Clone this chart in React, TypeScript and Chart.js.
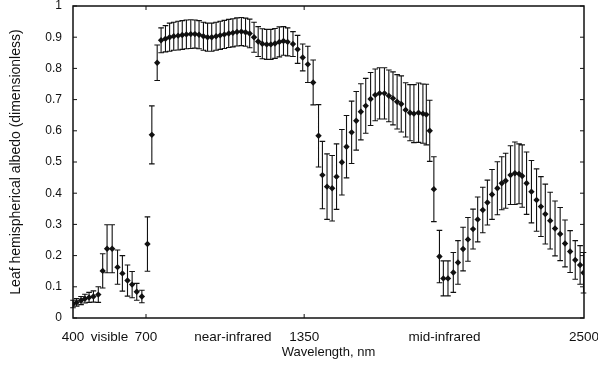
import React, { useEffect, useRef } from "react";
import { Chart, registerables } from "chart.js";

Chart.register(...registerables);

// ---- Data ----
// Visible / red-edge region
const visWavelength = [400, 415, 433, 449, 466, 484, 504, 522, 540, 561, 583, 603, 624, 643, 662, 683, 706, 724, 746];
const visAlbedo = [0.045, 0.05, 0.056, 0.062, 0.066, 0.069, 0.075, 0.151, 0.222, 0.222, 0.163, 0.143, 0.12, 0.107, 0.084, 0.069, 0.237, 0.587, 0.818];
const visError = [0.012, 0.012, 0.013, 0.014, 0.016, 0.018, 0.025, 0.055, 0.077, 0.077, 0.055, 0.057, 0.05, 0.042, 0.027, 0.02, 0.087, 0.093, 0.057];

// Near-infrared plateau
const nirWavelength = [762, 780, 797, 814, 832, 849, 866, 884, 901, 918, 936, 953, 970, 988, 1005, 1022, 1040, 1057, 1074, 1092, 1109, 1126, 1144, 1161, 1178, 1196, 1213, 1230, 1248, 1265, 1282];
const nirAlbedo = [0.89, 0.895, 0.9, 0.903, 0.905, 0.907, 0.909, 0.91, 0.91, 0.908, 0.903, 0.9, 0.9, 0.903, 0.906, 0.909, 0.912, 0.914, 0.917, 0.918, 0.916, 0.912, 0.9, 0.886, 0.879, 0.877, 0.877, 0.88, 0.885, 0.888, 0.885];
const nirError = [0.04, 0.042, 0.045, 0.045, 0.046, 0.046, 0.046, 0.046, 0.045, 0.045, 0.045, 0.045, 0.045, 0.045, 0.045, 0.045, 0.045, 0.045, 0.045, 0.045, 0.045, 0.046, 0.048, 0.048, 0.048, 0.048, 0.048, 0.048, 0.048, 0.046, 0.045];

// Water band at ~1400 nm and first mid-infrared hump
const midWavelength = [1304, 1323, 1344, 1365, 1387, 1409, 1425, 1444, 1465, 1483, 1505, 1524, 1545, 1564, 1583, 1603, 1623, 1642, 1660, 1680, 1698, 1715, 1732, 1749, 1767, 1785, 1801, 1820, 1838, 1852, 1866, 1883];
const midAlbedo = [0.878, 0.861, 0.835, 0.813, 0.755, 0.584, 0.458, 0.421, 0.416, 0.453, 0.499, 0.549, 0.595, 0.632, 0.661, 0.68, 0.702, 0.715, 0.72, 0.72, 0.712, 0.704, 0.693, 0.686, 0.667, 0.658, 0.655, 0.658, 0.655, 0.652, 0.6, 0.413];
const midError = [0.04, 0.045, 0.043, 0.058, 0.072, 0.1, 0.108, 0.105, 0.105, 0.105, 0.105, 0.1, 0.1, 0.094, 0.09, 0.088, 0.085, 0.083, 0.082, 0.082, 0.083, 0.085, 0.087, 0.09, 0.087, 0.09, 0.093, 0.095, 0.095, 0.097, 0.098, 0.104];

// Second mid-infrared hump
const swirWavelength = [1906, 1922, 1941, 1963, 1982, 2003, 2023, 2044, 2063, 2084, 2103, 2122, 2144, 2162, 2178, 2198, 2216, 2233, 2246, 2264, 2284, 2305, 2323, 2341, 2361, 2381, 2402, 2422, 2443, 2464, 2484, 2498];
const swirAlbedo = [0.197, 0.127, 0.127, 0.146, 0.178, 0.221, 0.252, 0.285, 0.316, 0.346, 0.37, 0.396, 0.416, 0.432, 0.44, 0.458, 0.464, 0.462, 0.455, 0.432, 0.405, 0.378, 0.357, 0.333, 0.312, 0.287, 0.269, 0.239, 0.213, 0.186, 0.17, 0.145];
const swirError = [0.084, 0.056, 0.056, 0.064, 0.07, 0.07, 0.07, 0.064, 0.072, 0.073, 0.072, 0.08, 0.085, 0.085, 0.088, 0.094, 0.1, 0.096, 0.1, 0.1, 0.1, 0.1, 0.096, 0.096, 0.091, 0.088, 0.085, 0.075, 0.067, 0.062, 0.062, 0.065];

// Axis ticks
const xTickValues = [400, 550, 700, 1057, 1350, 1927, 2500];
const xTickLabels = ["400", "visible", "700", "near-infrared", "1350", "mid-infrared", "2500"];
const xMarkedTicks = [700, 1350];
const yTickValues = [0, 0.1, 0.2, 0.3, 0.4, 0.5, 0.6, 0.7, 0.8, 0.9, 1];

const wavelength = [...visWavelength, ...nirWavelength, ...midWavelength, ...swirWavelength];
const albedo = [...visAlbedo, ...nirAlbedo, ...midAlbedo, ...swirAlbedo];
const errors = [...visError, ...nirError, ...midError, ...swirError];

const FONT = "'Liberation Sans', Arial, Helvetica, sans-serif";
const INK = "#111111";

const errorBarPlugin = {
  id: "errorBars",
  beforeDatasetsDraw(chart: any) {
    const { ctx } = chart;
    const x = chart.scales.x;
    const y = chart.scales.y;
    const cap = 2.8;
    ctx.save();
    ctx.strokeStyle = INK;
    ctx.lineWidth = 1.1;
    ctx.beginPath();
    wavelength.forEach((w, i) => {
      const px = x.getPixelForValue(w);
      const top = y.getPixelForValue(albedo[i] + errors[i]);
      const bot = y.getPixelForValue(albedo[i] - errors[i]);
      ctx.moveTo(px, top);
      ctx.lineTo(px, bot);
      ctx.moveTo(px - cap, top);
      ctx.lineTo(px + cap, top);
      ctx.moveTo(px - cap, bot);
      ctx.lineTo(px + cap, bot);
    });
    ctx.stroke();
    ctx.restore();
  },
};

const framePlugin = {
  id: "frame",
  afterDraw(chart: any) {
    const { ctx, chartArea } = chart;
    const { left, right, top, bottom } = chartArea;
    const x = chart.scales.x;
    const y = chart.scales.y;
    const len = 4;
    ctx.save();
    ctx.strokeStyle = INK;
    ctx.lineWidth = 1.5;
    ctx.strokeRect(left, top, right - left, bottom - top);
    ctx.lineWidth = 1;
    ctx.beginPath();
    yTickValues.forEach((v) => {
      const py = y.getPixelForValue(v);
      ctx.moveTo(left, py);
      ctx.lineTo(left + len, py);
      ctx.moveTo(right, py);
      ctx.lineTo(right - len, py);
    });
    xMarkedTicks.forEach((v) => {
      const px = x.getPixelForValue(v);
      ctx.moveTo(px, bottom);
      ctx.lineTo(px, bottom - len);
      ctx.moveTo(px, top);
      ctx.lineTo(px, top + len);
    });
    ctx.stroke();
    ctx.restore();
  },
};

const zeroPad = (s: any) => {
  s.paddingTop = 0;
  s.paddingBottom = 0;
  s.paddingLeft = 0;
  s.paddingRight = 0;
};

export default function App() {
  const canvasRef = useRef<HTMLCanvasElement | null>(null);

  useEffect(() => {
    if (!canvasRef.current) return;
    const points = wavelength.map((w, i) => ({ x: w, y: albedo[i] }));
    const chart = new Chart(canvasRef.current, {
      type: "scatter",
      data: {
        datasets: [
          {
            data: points,
            pointStyle: "rectRot",
            pointRadius: 3.2,
            pointBorderWidth: 0,
            backgroundColor: INK,
            borderColor: INK,
            showLine: false,
          },
        ],
      },
      options: {
        responsive: false,
        animation: false,
        devicePixelRatio: 1,
        layout: { autoPadding: false, padding: { left: 0, right: 14, top: 6, bottom: 0 } },
        plugins: {
          legend: { display: false },
          tooltip: { enabled: false },
        },
        scales: {
          x: {
            type: "linear",
            position: "bottom",
            min: 400,
            max: 2500,
            afterBuildTicks: (s: any) => {
              s.ticks = xTickValues.map((v) => ({ value: v }));
            },
            afterFit: (s: any) => {
              s.height = 49;
              zeroPad(s);
            },
            ticks: {
              autoSkip: false,
              maxRotation: 0,
              minRotation: 0,
              padding: 11,
              color: INK,
              font: { family: FONT, size: 13.5 },
              callback: (_v: any, i: number) => xTickLabels[i],
            },
            grid: { display: false, drawTicks: false },
            border: { display: false },
            title: {
              display: true,
              text: "Wavelength, nm",
              color: INK,
              font: { family: FONT, size: 13 },
              padding: { top: 0, bottom: 7 },
            },
          },
          y: {
            type: "linear",
            min: 0,
            max: 1,
            afterBuildTicks: (s: any) => {
              s.ticks = yTickValues.map((v) => ({ value: v }));
            },
            afterFit: (s: any) => {
              s.width = 73;
              zeroPad(s);
            },
            ticks: {
              padding: 11,
              color: INK,
              font: { family: FONT, size: 12 },
              callback: (v: any) => {
                const r = Math.round(Number(v) * 10) / 10;
                return r === 0 || r === 1 ? String(r) : r.toFixed(1);
              },
            },
            grid: { display: false, drawTicks: false },
            border: { display: false },
            title: {
              display: true,
              text: "Leaf hemispherical albedo (dimensionless)",
              color: INK,
              font: { family: FONT, size: 14 },
              padding: { top: 8, bottom: 0 },
            },
          },
        },
      },
      plugins: [errorBarPlugin, framePlugin],
    } as any);
    return () => chart.destroy();
  }, []);

  return (
    <div style={{ position: "fixed", left: 0, top: 0, width: 598, height: 367, background: "#fff" }}>
      <canvas ref={canvasRef} width={598} height={367} style={{ display: "block" }} />
    </div>
  );
}
